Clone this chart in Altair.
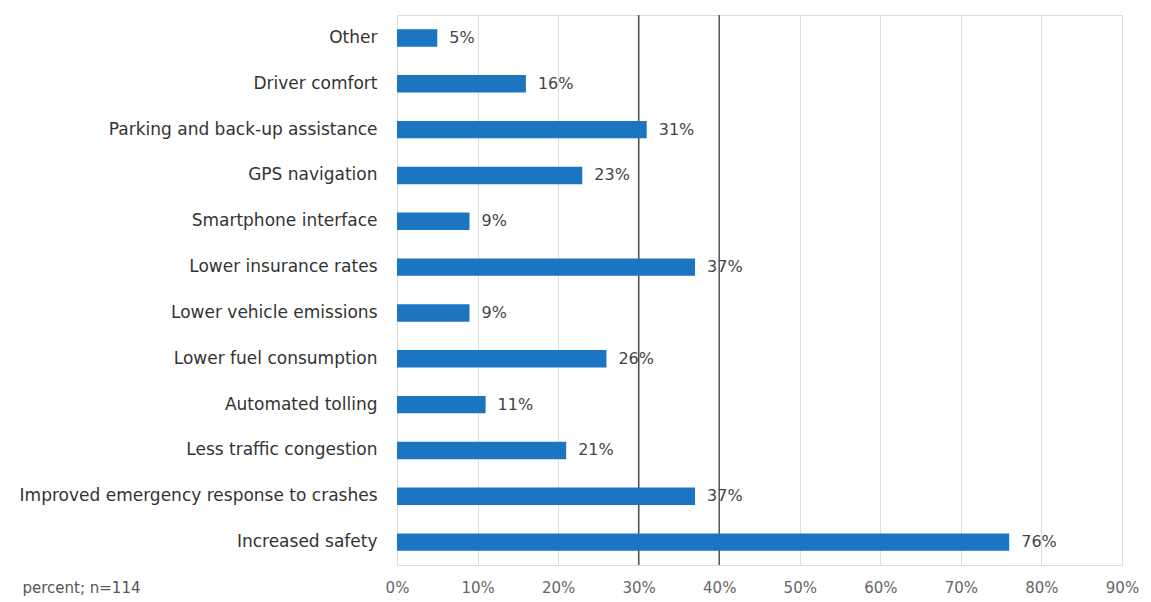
import altair as alt
import pandas as pd

categories = [
    "Other",
    "Driver comfort",
    "Parking and back-up assistance",
    "GPS navigation",
    "Smartphone interface",
    "Lower insurance rates",
    "Lower vehicle emissions",
    "Lower fuel consumption",
    "Automated tolling",
    "Less traffic congestion",
    "Improved emergency response to crashes",
    "Increased safety",
]
values = [5, 16, 31, 23, 9, 37, 9, 26, 11, 21, 37, 76]
tick_values = [0, 10, 20, 30, 40, 50, 60, 70, 80, 90]
dark_lines = [30, 40]
note = "percent; n=114"

df = pd.DataFrame({"category": categories, "value": values})
df["label"] = df["value"].astype(str) + "%"
lines_df = pd.DataFrame({"x": dark_lines})

FONT = "DejaVu Sans"
BAR = "#1b75c0"

x_scale = alt.Scale(domain=[0, 90], nice=False)
y_enc = alt.Y("category:N", sort=categories, title=None,
              scale=alt.Scale(paddingInner=0.62, paddingOuter=0.31),
              axis=alt.Axis(labelFontSize=17, labelColor="#333333", labelFont=FONT,
                            labelPadding=20, ticks=False, domain=False, grid=False,
                            labelLimit=400))

bars = alt.Chart(df).mark_bar(color=BAR).encode(
    x=alt.X("value:Q", scale=x_scale, title=note,
            axis=alt.Axis(values=tick_values, labelExpr="datum.value + '%'",
                          labelFontSize=15, labelColor="#666666", labelFont=FONT,
                          labelPadding=15, labelFlush=False, ticks=False, domain=False,
                          grid=True, gridColor="#dddddd", gridWidth=1,
                          titleX=-375, titleY=15, titleAlign="left",
                          titleBaseline="top", titleAnchor="start",
                          titleFontSize=15, titleFont=FONT, titleFontWeight="normal",
                          titleColor="#555555")),
    y=y_enc,
)

rules = alt.Chart(lines_df).mark_rule(color="#555555", strokeWidth=1.5).encode(
    x=alt.X("x:Q", scale=x_scale),
)

labels = alt.Chart(df).mark_text(align="left", baseline="middle", dx=12,
                                 fontSize=16, font=FONT, color="#444444").encode(
    x=alt.X("value:Q", scale=x_scale),
    y=alt.Y("category:N", sort=categories),
    text="label:N",
)

chart = alt.layer(rules, bars, labels).properties(
    width=725, height=550,
    autosize=alt.AutoSizeParams(type="none"),
    padding={"left": 389, "top": 7, "right": 20, "bottom": 42},
).configure_view(stroke=None).configure(background="white")

chart.save("out.html", embed_options={"renderer": "svg", "actions": False})
